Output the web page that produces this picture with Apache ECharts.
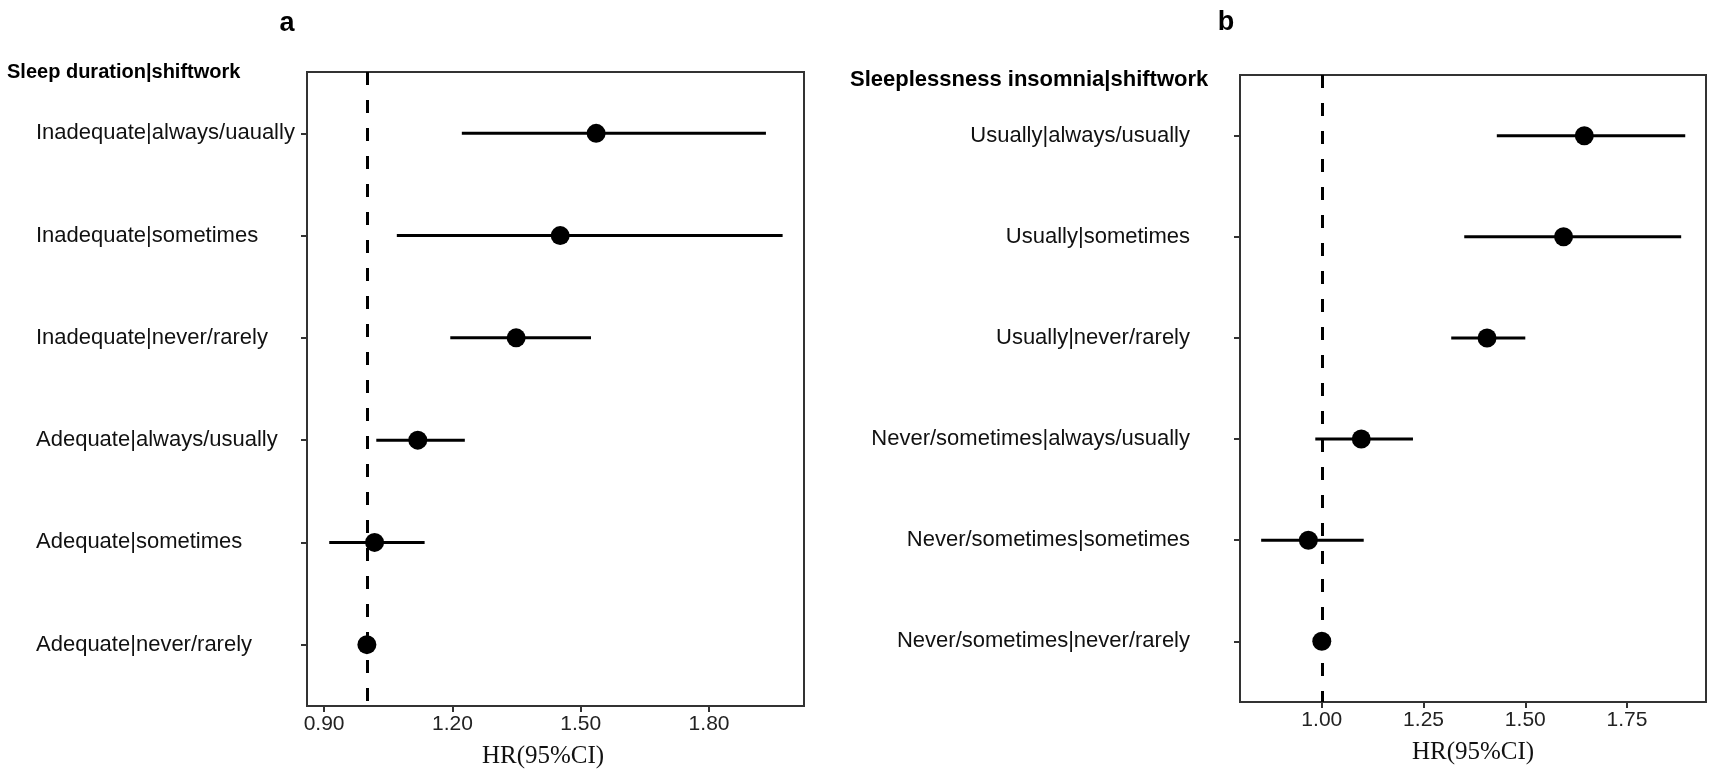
<!DOCTYPE html>
<html>
<head>
<meta charset="utf-8">
<title>HR forest plots</title>
<script src="https://cdn.jsdelivr.net/npm/echarts@6/dist/echarts.min.js"></script>
<style>
  html, body { margin: 0; padding: 0; background: #fff; }
  #chart { width: 1713px; height: 778px; }
</style>
</head>
<body>
<div id="chart"></div>
<script>
// ---------- data ----------
var catsA = ['Inadequate|always/uaually', 'Inadequate|sometimes', 'Inadequate|never/rarely',
  'Adequate|always/usually', 'Adequate|sometimes', 'Adequate|never/rarely'];
var hrA = [1.536, 1.452, 1.349, 1.119, 1.018, 1.000];
var loA = [1.222, 1.070, 1.195, 1.022, 0.912, 1.000];
var hiA = [1.933, 1.972, 1.524, 1.229, 1.135, 1.000];
var ticksA = [0.90, 1.20, 1.50, 1.80];

var catsB = ['Usually|always/usually', 'Usually|sometimes', 'Usually|never/rarely',
  'Never/sometimes|always/usually', 'Never/sometimes|sometimes', 'Never/sometimes|never/rarely'];
var hrB = [1.645, 1.594, 1.406, 1.097, 0.967, 1.000];
var loB = [1.430, 1.350, 1.318, 0.984, 0.851, 1.000];
var hiB = [1.893, 1.883, 1.500, 1.224, 1.103, 1.000];
var ticksB = [1.00, 1.25, 1.50, 1.75];

var rows = [1, 2, 3, 4, 5, 6];

var SANS = '"Liberation Sans", Arial, Helvetica, sans-serif';
var SERIF = '"Liberation Serif", "Times New Roman", serif';
var AXIS = '#333';

var chart = echarts.init(document.getElementById('chart'));

function xAxisOf(idx, min, max, ticks, namePad) {
  return {
    type: 'value', gridIndex: idx, min: min, max: max,
    name: 'HR(95%CI)', nameLocation: 'middle', nameGap: 38,
    nameTextStyle: { fontFamily: SERIF, fontSize: 25, color: '#111', padding: namePad },
    axisLine: { show: true, onZero: false, lineStyle: { color: AXIS, width: 2 } },
    axisTick: { show: true, length: 6, customValues: ticks, lineStyle: { color: AXIS, width: 2 } },
    axisLabel: {
      show: true, margin: 8, customValues: ticks, fontFamily: SANS, fontSize: 21, color: '#222',
      formatter: function (v) { return v.toFixed(2); }
    },
    splitLine: { show: false }
  };
}

function yAxisOf(idx, cats, align, margin) {
  return {
    type: 'value', gridIndex: idx, min: 0.4, max: 6.6, inverse: true,
    axisLine: { show: true, onZero: false, lineStyle: { color: AXIS, width: 2 } },
    axisTick: { show: true, length: 6, customValues: rows, lineStyle: { color: AXIS, width: 2 } },
    axisLabel: {
      show: true, customValues: rows, align: align, margin: margin,
      fontFamily: SANS, fontSize: 22, color: '#111',
      formatter: function (v) { return cats[Math.round(v) - 1]; }
    },
    splitLine: { show: false }
  };
}

// horizontal confidence-interval segments
function ciSeries(idx, lo, hi) {
  return {
    type: 'custom', xAxisIndex: idx, yAxisIndex: idx,
    encode: { x: [0, 1], y: 2 },
    data: lo.map(function (l, i) { return [l, hi[i], rows[i]]; }),
    renderItem: function (params, api) {
      var p1 = api.coord([api.value(0), api.value(2)]);
      var p2 = api.coord([api.value(1), api.value(2)]);
      return {
        type: 'line',
        shape: { x1: p1[0], y1: p1[1], x2: p2[0], y2: p2[1] },
        style: { stroke: '#000', lineWidth: 3 }
      };
    },
    z: 2
  };
}

// point estimates + reference line at HR = 1
function pointSeries(idx, hr) {
  return {
    type: 'scatter', xAxisIndex: idx, yAxisIndex: idx,
    data: hr.map(function (v, i) { return [v, rows[i]]; }),
    symbolSize: 19,
    itemStyle: { color: '#000', opacity: 1 },
    z: 4,
    markLine: {
      silent: true, symbol: ['none', 'none'], animation: false,
      label: { show: false },
      lineStyle: { color: '#000', width: 3, type: [13, 15] },
      data: [{ xAxis: 1 }]
    }
  };
}

var option = {
  animation: false,
  backgroundColor: '#fff',
  grid: [
    { left: 307, top: 72, width: 497, height: 634, show: true, borderColor: AXIS, borderWidth: 2, containLabel: false },
    { left: 1240, top: 75, width: 466, height: 627, show: true, borderColor: AXIS, borderWidth: 2, containLabel: false }
  ],
  xAxis: [
    xAxisOf(0, 0.86, 2.022, ticksA, [0, 25, 0, 0]),
    xAxisOf(1, 0.799, 1.944, ticksB, 0)
  ],
  yAxis: [
    yAxisOf(0, catsA, 'left', 271),
    yAxisOf(1, catsB, 'right', 50)
  ],
  graphic: [
    { type: 'text', x: 287, y: 24, style: { text: 'a', font: 'bold 27px ' + SANS, fill: '#000', textAlign: 'center', textVerticalAlign: 'middle' } },
    { type: 'text', x: 1226, y: 23, style: { text: 'b', font: 'bold 27px ' + SANS, fill: '#000', textAlign: 'center', textVerticalAlign: 'middle' } },
    { type: 'text', x: 7, y: 72, style: { text: 'Sleep duration|shiftwork', font: 'bold 20px ' + SANS, fill: '#000', textAlign: 'left', textVerticalAlign: 'middle' } },
    { type: 'text', x: 850, y: 80, style: { text: 'Sleeplessness insomnia|shiftwork', font: 'bold 22px ' + SANS, fill: '#000', textAlign: 'left', textVerticalAlign: 'middle' } }
  ],
  series: [
    ciSeries(0, loA, hiA),
    pointSeries(0, hrA),
    ciSeries(1, loB, hiB),
    pointSeries(1, hrB)
  ]
};

chart.setOption(option);
</script>
</body>
</html>
